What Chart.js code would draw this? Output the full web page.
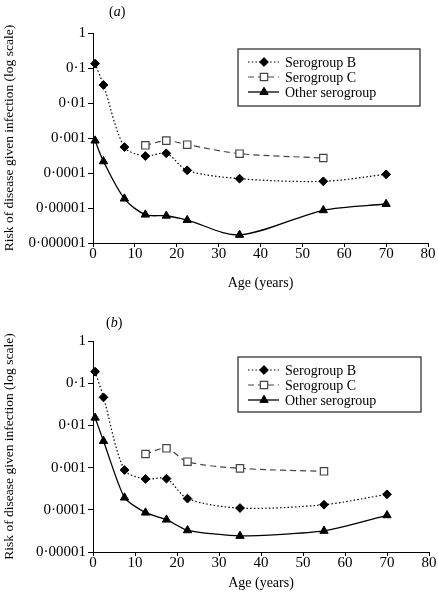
<!DOCTYPE html>
<html>
<head>
<meta charset="utf-8">
<script src="https://cdn.jsdelivr.net/npm/chart.js@4/dist/chart.umd.min.js"></script>
<style>
  html, body { margin: 0; padding: 0; background: #fff; }
  .panel { width: 438px; height: 300px; position: relative; }
  canvas { display: block; }
</style>
</head>
<body>
<div class="panel"><canvas id="ca" width="438" height="300"></canvas></div>
<div class="panel"><canvas id="cb" width="438" height="300"></canvas></div>
<script>
// ---- Data ----
const agesAll = [0.5, 2.5, 7.5, 12.5, 17.5, 22.5, 35, 55, 70];
const agesC = [12.5, 17.5, 22.5, 35, 55];

// Panel (a)
const aSeroB = [0.133, 0.0327, 0.00055, 0.000306, 0.000365, 0.000119, 0.0000689, 0.0000578, 0.0000916];
const aSeroC = [0.000617, 0.00084, 0.000645, 0.000357, 0.000268];
const aOther = [0.00084, 0.000215, 0.0000185, 0.00000645, 0.0000060, 0.0000045, 0.0000017, 0.0000086, 0.000013];

// Panel (b)
const bSeroB = [0.1875, 0.0462, 0.000877, 0.000537, 0.000547, 0.000184, 0.00011, 0.000132, 0.000233];
const bSeroC = [0.0021, 0.00286, 0.00138, 0.00096, 0.000816];
const bOther = [0.0152, 0.00427, 0.000194, 0.0000855, 0.0000583, 0.0000326, 0.000024, 0.0000316, 0.000074];

const seriesNames = ['Serogroup B', 'Serogroup C', 'Other serogroup'];
const xTicks = [0, 10, 20, 30, 40, 50, 60, 70, 80];
const aYTicks = [1, 0.1, 0.01, 0.001, 0.0001, 0.00001, 0.000001];
const bYTicks = [1, 0.1, 0.01, 0.001, 0.0001, 0.00001];

const FONT = '"Liberation Serif", "Times New Roman", serif';
Chart.defaults.font.family = FONT;
Chart.defaults.font.size = 14;
Chart.defaults.color = '#000';

function pts(xs, ys) { return xs.map((x, i) => ({ x: x, y: ys[i] })); }

function fmtTick(v) {
  const e = Math.round(Math.log10(v));
  if (e >= 0) return '1';
  return '0\u00B7' + '0'.repeat(-e - 1) + '1';
}

function drawMarker(ctx, style, x, y, r) {
  ctx.beginPath();
  if (style === 'rectRot') {
    ctx.moveTo(x, y - r); ctx.lineTo(x + r, y); ctx.lineTo(x, y + r); ctx.lineTo(x - r, y);
  } else if (style === 'rect') {
    const s = Math.SQRT1_2 * r;
    ctx.rect(x - s, y - s, 2 * s, 2 * s);
  } else {
    const h = r * 1.5, w = r * Math.sqrt(3);
    ctx.moveTo(x, y - r); ctx.lineTo(x + w / 2, y - r + h); ctx.lineTo(x - w / 2, y - r + h);
  }
  ctx.closePath();
  ctx.fill();
  ctx.stroke();
}

const overlay = {
  id: 'overlay',
  afterDraw(chart, args, opts) {
    const ctx = chart.ctx;
    ctx.save();
    // panel label
    ctx.textBaseline = 'middle';
    ctx.textAlign = 'left';
    ctx.fillStyle = '#000';
    let lx = opts.label.x;
    ctx.font = '14px ' + FONT;
    ctx.fillText('(', lx, opts.label.y); lx += ctx.measureText('(').width;
    ctx.font = 'italic 14px ' + FONT;
    ctx.fillText(opts.label.t, lx, opts.label.y); lx += ctx.measureText(opts.label.t).width;
    ctx.font = '14px ' + FONT;
    ctx.fillText(')', lx, opts.label.y);

    // legend box
    const b = opts.box;
    ctx.strokeStyle = '#333';
    ctx.lineWidth = 1.3;
    ctx.setLineDash([]);
    ctx.strokeRect(b.x, b.y, b.w, b.h);
    chart.data.datasets.forEach((ds, i) => {
      const y = b.y + opts.rowStart + i * opts.rowGap;
      ctx.strokeStyle = ds.borderColor;
      ctx.lineWidth = ds.borderWidth;
      ctx.setLineDash(ds.borderDash || []);
      ctx.beginPath();
      ctx.moveTo(b.x + 10, y); ctx.lineTo(b.x + 41, y);
      ctx.stroke();
      ctx.setLineDash([]);
      ctx.fillStyle = ds.pointBackgroundColor;
      ctx.strokeStyle = ds.pointBorderColor;
      ctx.lineWidth = ds.pointBorderWidth;
      drawMarker(ctx, ds.pointStyle, b.x + 26, y, ds.pointRadius);
      ctx.fillStyle = '#000';
      ctx.font = '14px ' + FONT;
      ctx.fillText(ds.label, b.x + 47, y + 1);
    });
    ctx.restore();
  }
};

function makeChart(id, cfg) {
  const datasets = [
    {
      label: seriesNames[0], data: pts(agesAll, cfg.B),
      borderColor: '#000', borderWidth: 1.2, borderDash: [1.5, 2.2],
      pointStyle: 'rectRot', pointRadius: 4.4, pointBackgroundColor: '#000',
      pointBorderColor: '#000', pointBorderWidth: 1, tension: cfg.tB, clip: false
    },
    {
      label: seriesNames[1], data: pts(agesC, cfg.C),
      borderColor: '#444', borderWidth: 1.2, borderDash: [6, 4],
      pointStyle: 'rect', pointRadius: 5.2, pointBackgroundColor: '#fff',
      pointBorderColor: '#444', pointBorderWidth: 1.2, tension: cfg.tC, clip: false
    },
    {
      label: seriesNames[2], data: pts(agesAll, cfg.O),
      borderColor: '#000', borderWidth: 1.3, borderDash: [],
      pointStyle: 'triangle', pointRadius: 4.8, pointBackgroundColor: '#000',
      pointBorderColor: '#000', pointBorderWidth: 1, tension: cfg.tO, clip: false
    }
  ];
  return new Chart(document.getElementById(id), {
    type: 'line',
    data: { datasets: datasets },
    plugins: [overlay],
    options: {
      responsive: false,
      animation: false,
      events: [],
      layout: { padding: { left: 0, right: cfg.padRight, top: cfg.padTop, bottom: 0 } },
      plugins: {
        legend: { display: false },
        tooltip: { enabled: false },
        overlay: { label: cfg.label, box: cfg.box, rowStart: 13, rowGap: 15 }
      },
      scales: {
        x: {
          type: 'linear', min: 0, max: 80,
          afterBuildTicks: s => { s.ticks = xTicks.map(v => ({ value: v })); },
          afterFit: s => { s.height = cfg.xH; },
          ticks: { padding: -2, font: { size: 15 }, color: '#000', maxRotation: 0 },
          grid: { drawOnChartArea: false, drawTicks: true, tickLength: 4, color: '#000' },
          border: { display: true, color: '#000', width: 1 },
          title: { display: true, text: 'Age (years)', font: { size: 14 }, color: '#000', padding: { top: 0, bottom: 8.5 } }
        },
        y: {
          type: 'logarithmic', min: cfg.yMin, max: 1,
          afterBuildTicks: s => { s.ticks = cfg.yTicks.map(v => ({ value: v })); },
          afterFit: s => { s.width = 93; },
          ticks: { padding: 2, font: { size: 15 }, color: '#000', callback: v => fmtTick(v) },
          grid: { drawOnChartArea: false, drawTicks: true, tickLength: 5, color: '#000' },
          border: { display: true, color: '#000', width: 1 },
          title: { display: true, text: 'Risk of disease given infection (log scale)', font: { size: 13.5 }, color: '#000', padding: { top: 1.5, bottom: 0 } }
        }
      }
    }
  });
}

makeChart('ca', {
  B: aSeroB, C: aSeroC, O: aOther, yMin: 0.000001, yTicks: aYTicks,
  padTop: 33, padRight: 10, xH: 57, tB: 0.3, tC: 0.3, tO: 0.3,
  label: { x: 109, y: 12, t: 'a' },
  box: { x: 238, y: 49, w: 182, h: 57 }
});
makeChart('cb', {
  B: bSeroB, C: bSeroC, O: bOther, yMin: 0.00001, yTicks: bYTicks,
  padTop: 41, padRight: 9, xH: 48, tB: 0.3, tC: 0.3, tO: 0.2,
  label: { x: 106, y: 23, t: 'b' },
  box: { x: 238, y: 57, w: 183, h: 55 }
});
</script>
</body>
</html>
